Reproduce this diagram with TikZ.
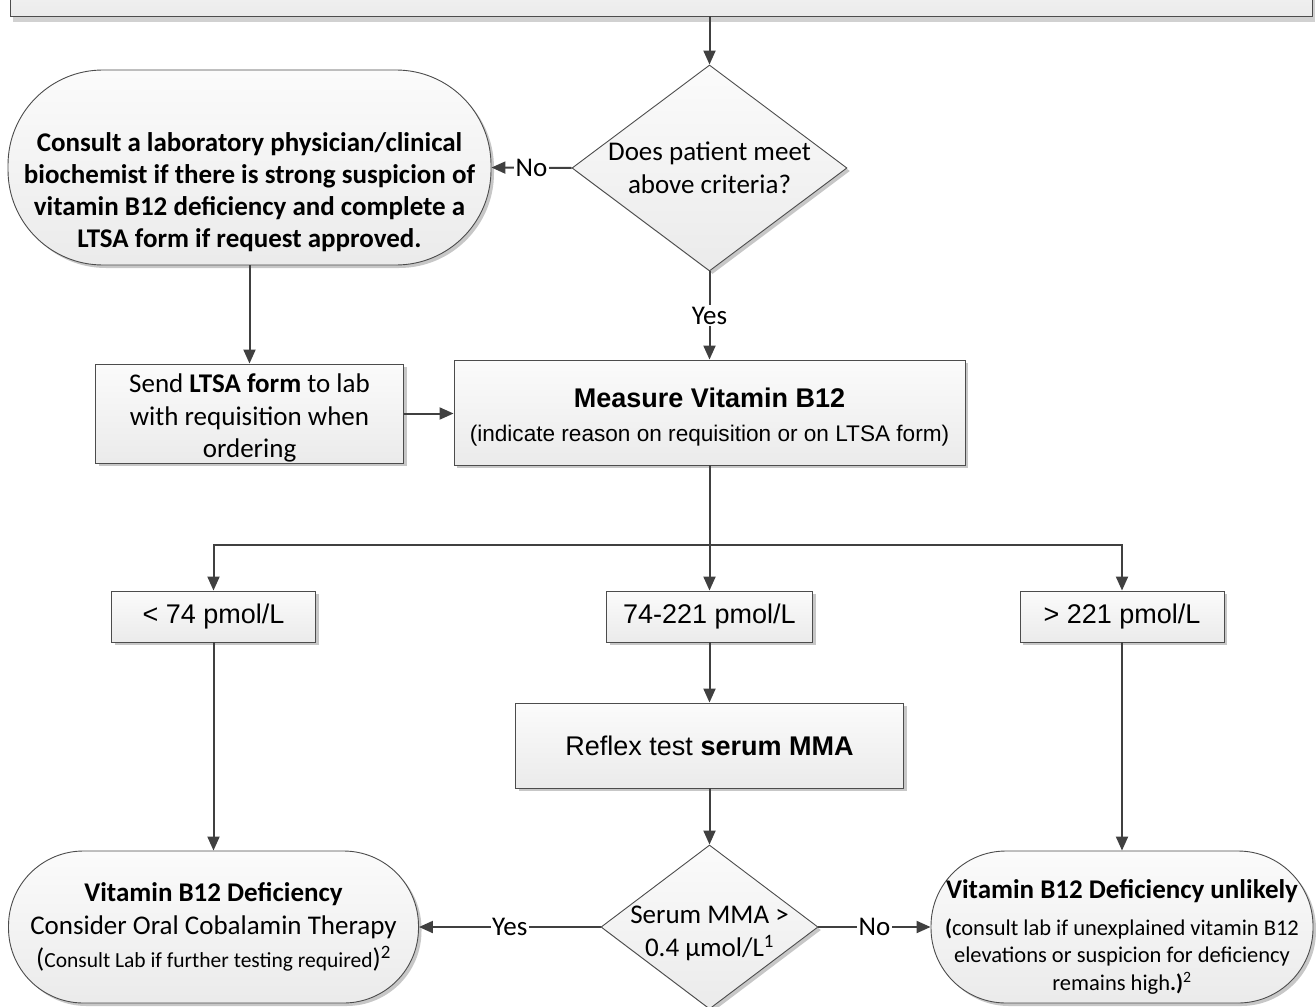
\documentclass[tikz,border=0pt]{standalone}
\usepackage{fontspec}
\setmainfont{Carlito}
\newfontfamily\arialf{Liberation Sans}
\usetikzlibrary{shapes.geometric,arrows.meta,shadows}
\tikzset{
  base/.style={draw=black!70, line width=0.9pt, top color=gray!3, bottom color=gray!16,
    drop shadow={shadow xshift=3pt, shadow yshift=-3pt, fill=black!22, opacity=1},
    inner sep=0pt, align=center, text=black},
  box/.style={base, rectangle},
  term/.style={base, rectangle},
  dia/.style={base, diamond},
  txt/.style={inner sep=0pt, align=center, text=black},
  conn/.style={draw=black!75, line width=2pt, -{Triangle[length=14pt,width=12pt]}},
  plain/.style={draw=black!75, line width=2pt},
  lab/.style={fill=white, inner sep=1.5pt, font=\fontsize{27}{33}\selectfont},
  cal/.style={font=\fontsize{27}{33}\selectfont},
  calb/.style={font=\fontsize{27}{32}\selectfont\bfseries},
  ar/.style={font=\arialf\fontsize{27}{33}\selectfont},
}
\begin{document}
\begin{tikzpicture}[x=1pt, y=-1pt]
\useasboundingbox (0,0) rectangle (1316,1006);
\clip (0,0) rectangle (1316,1006);

% top (cut) box
\node[box, minimum width=1302pt, minimum height=60pt, drop shadow={shadow xshift=3pt, shadow yshift=-6pt, fill=black!18, opacity=1}] (top) at (661,-14) {};

% first decision
\node[dia, minimum width=275pt, minimum height=206pt] (d1) at (709.5,168) {};
\node[txt, cal] (d1t) at (709.5,168) {Does patient meet\\above criteria?};

% consult terminator
\node[term, rounded corners=95pt, minimum width=483pt, minimum height=195pt] (cons) at (249.5,167.5) {};
\node[txt, calb] (const) at (249.5,192)
  {Consult a laboratory physician/clinical\\biochemist if there is strong suspicion of\\vitamin B12 deficiency and complete a\\LTSA form if request approved.};

% send LTSA form
\node[box, minimum width=308pt, minimum height=99pt] (send) at (249.5,413.5) {};
\node[txt, font=\fontsize{27}{32.5}\selectfont] (sendt) at (249.5,418)
  {Send \textbf{LTSA form} to lab\\with requisition when\\ordering};

% measure
\node[box, minimum width=511pt, minimum height=105pt] (meas) at (709.5,412.5) {};
\node[txt, font=\arialf\fontsize{22.6}{33}\selectfont] (meast) at (709.5,417)
  {{\bfseries\fontsize{27}{33}\selectfont Measure Vitamin B12}\\[1pt](indicate reason on requisition or on LTSA form)};

% ranges
\node[box, ar, minimum width=204pt, minimum height=51pt] (r1) at (213.5,616.5) {< 74 pmol/L};
\node[box, ar, minimum width=206pt, minimum height=51pt] (r2) at (709.5,616.5) {74-221 pmol/L};
\node[box, ar, minimum width=204pt, minimum height=51pt] (r3) at (1122,616.5) {> 221 pmol/L};

% reflex
\node[box, ar, minimum width=388pt, minimum height=85pt] (rfx) at (709.5,745.5) {Reflex test \textbf{serum MMA}};

% second decision
\node[dia, minimum width=217pt, minimum height=164pt] (d2) at (709.5,927) {};
\node[txt, cal] (d2t) at (709.5,933) {Serum MMA >\\0.4 µmol/L\textsuperscript{1}};

% bottom terminators
\node[term, cal, rounded corners=75pt, minimum width=410pt, minimum height=152pt] (t1) at (213.5,927)
  {\textbf{Vitamin B12 Deficiency}\\Consider Oral Cobalamin Therapy\\({\fontsize{21.5}{33}\selectfont Consult Lab if further testing required})\textsuperscript{2}};
\node[term, rounded corners=75pt, minimum width=382pt, minimum height=152pt] (t3) at (1122,927) {};
\node[txt, font=\fontsize{22.5}{27.5}\selectfont] (t3t) at (1122,937)
  {{\fontsize{27}{33}\selectfont\bfseries Vitamin B12 Deficiency unlikely}\\[9pt]\textbf{(}consult lab if unexplained vitamin B12\\elevations or suspicion for deficiency\\remains high\textbf{.)}\textsuperscript{2}};

% connectors
\draw[conn] (top.south -| d1.north) -- (d1.north);
\draw[conn] (d1.west) -- node[lab] {No} (cons.east);
\draw[conn] (d1.south) -- node[lab] {Yes} (meas.north);
\draw[conn] (cons.south) -- (send.north);
\draw[conn] (send.east) -- (send.east -| meas.west);
\coordinate (br) at (709.5,545);
\draw[plain] (meas.south) -- (br);
\draw[conn] (br) -| (r1.north);
\draw[conn] (br) -| (r3.north);
\draw[conn] (br) -- (r2.north);
\draw[conn] (r1.south) -- (t1.north);
\draw[conn] (r2.south) -- (rfx.north);
\draw[conn] (rfx.south) -- (d2.north);
\draw[conn] (r3.south) -- (t3.north);
\draw[conn] (d2.west) -- node[lab] {Yes} (t1.east);
\draw[conn] (d2.east) -- node[lab] {No} (t3.west);
\end{tikzpicture}
\end{document}
